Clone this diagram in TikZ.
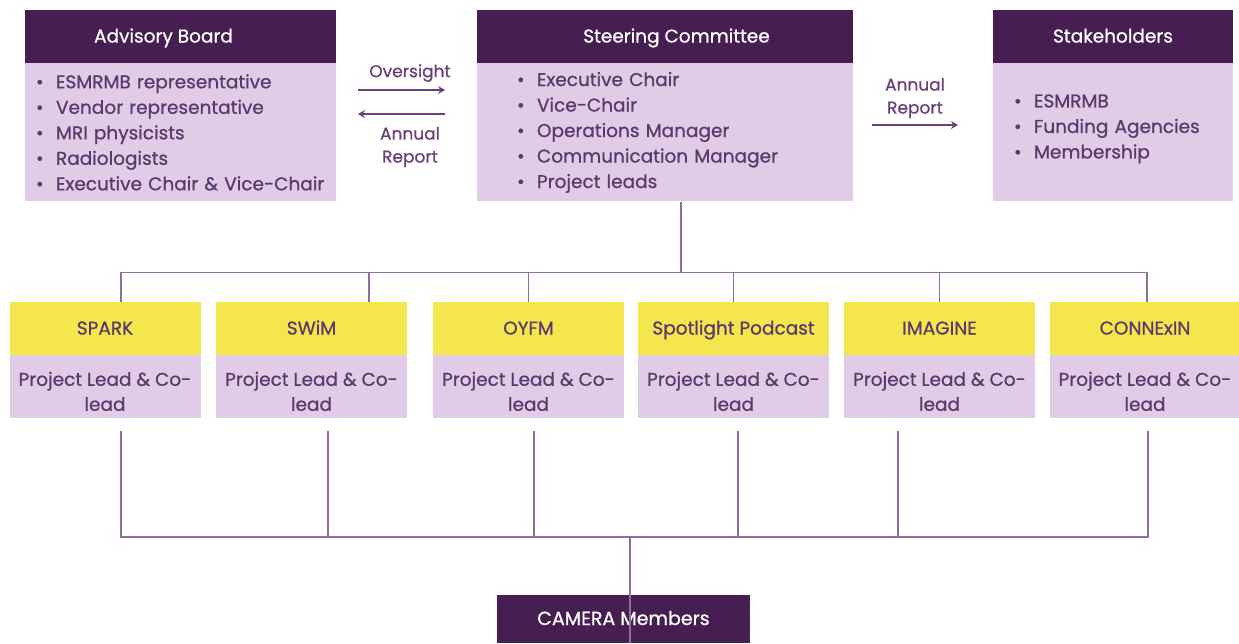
\documentclass[tikz,border=0pt]{standalone}
\usepackage{fontspec}
\setmainfont{Poppins}[FakeBold=0.8]
\usetikzlibrary{arrows.meta,positioning}
\definecolor{campurple}{HTML}{461E52}
\definecolor{camlilac}{HTML}{E1CCE7}
\definecolor{camyellow}{HTML}{F5E64E}
\definecolor{camtext}{HTML}{5B3A6B}
\definecolor{camline}{HTML}{8E6E9E}
\definecolor{camarrow}{HTML}{6A3F7A}
\tikzset{
    %Define standard arrow tip
    >={Stealth[length=7pt,width=8pt]},
    %Define style for dark header boxes
    head/.style={rectangle, fill=campurple, text=white, minimum height=53pt, inner sep=0pt, text height=14pt, text depth=2pt, font=\fontsize{18.5}{20}\selectfont},
    %Define style for the lists under the headers
    list/.style={rectangle, fill=camlilac, text=camtext, minimum height=138pt, inner ysep=0pt, align=left, font=\fontsize{18.5}{25.5}\selectfont},
    %Define style for project titles and leads
    proj/.style={rectangle, fill=camyellow, text=camtext, minimum width=191pt, minimum height=53pt, inner sep=0pt, text height=14pt, text depth=2pt, font=\fontsize{18.5}{20}\selectfont},
    lead/.style={rectangle, fill=camlilac, text=camtext, minimum width=191pt, minimum height=63pt, inner sep=0pt, align=center, font=\fontsize{18.5}{25}\selectfont},
    link/.style={draw=camline, line width=1.2pt},
    flow/.style={draw=camarrow, line width=2.4pt, ->},
    note/.style={text=camarrow, align=center, font=\fontsize{17}{23}\selectfont},
}
\newcommand{\itm}[1]{\makebox[20pt][l]{\textbullet}#1}
\newcommand{\leadtext}{\rule{0pt}{23pt}Project Lead \& Co-\\lead}

\begin{document}
\begin{tikzpicture}[x=1pt, y=-1pt]
    \useasboundingbox (0,0) rectangle (1239,643);

    % top row
    \node[head, minimum width=311pt](advhead) at (180.5,36.5){\hspace*{-34pt}Advisory Board};
    \node[list, below=0pt of advhead, inner xsep=11pt, text width=289pt](advbody){%
        \itm{ESMRMB representative}\\ \itm{Vendor representative}\\ \itm{MRI physicists}\\
        \itm{Radiologists}\\ \itm{Executive Chair \& Vice-Chair}};
    \node[head, minimum width=376pt](steerhead) at (665,36.5){\hspace*{23pt}Steering Committee};
    \node[list, below=0pt of steerhead, inner xsep=40pt, text width=296pt](steerbody){%
        \itm{Executive Chair}\\ \itm{Vice-Chair}\\ \itm{Operations Manager}\\
        \itm{Communication Manager}\\ \itm{Project leads}};
    \node[head, minimum width=240pt](stakehead) at (1113,36.5){Stakeholders};
    \node[list, below=0pt of stakehead, inner xsep=21pt, text width=198pt](stakebody){%
        \itm{ESMRMB}\\ \itm{Funding Agencies}\\ \itm{Membership}\rule[-12pt]{0pt}{12pt}};

    % reporting arrows
    \coordinate (ovfrom) at (358,90);
    \coordinate (ovto) at (445,90);
    \coordinate (arfrom) at (445,114);
    \coordinate (arto) at (358,114);
    \coordinate (repfrom) at (872,125);
    \coordinate (repto) at (958,125);
    \path[flow] (ovfrom) -- (ovto);
    \path[flow] (arfrom) -- (arto);
    \path[flow] (repfrom) -- (repto);
    \node[note](oversight) at (410,73){Oversight};
    \node[note](annual) at (410,147){Annual\\Report};
    \node[note](report) at (915,98){Annual\\Report};

    % projects
    \node[proj](spark) at (105,328.5){SPARK};
    \node[lead, below=0pt of spark](sparklead){\leadtext};
    \node[proj](swim) at (311.5,328.5){SWiM};
    \node[lead, below=0pt of swim](swimlead){\leadtext};
    \node[proj](oyfm) at (528.5,328.5){OYFM};
    \node[lead, below=0pt of oyfm](oyfmlead){\leadtext};
    \node[proj](spot) at (733.5,328.5){Spotlight Podcast};
    \node[lead, below=0pt of spot](spotlead){\leadtext};
    \node[proj](imagine) at (939.5,328.5){IMAGINE};
    \node[lead, below=0pt of imagine](imaginelead){\leadtext};
    \node[proj](connexin) at (1145,328.5){CONNExIN};
    \node[lead, below=0pt of connexin](connexinlead){\leadtext};

    \node[head, minimum width=253pt, minimum height=48pt, font=\fontsize{19}{20}\selectfont](camera) at (623.5,619){CAMERA Members};

    % tree lines
    \path[link] ([xshift=16pt]steerbody.south) -- ++(0,71) coordinate (topbus);
    \foreach \p/\dx in {spark/16, swim/57.5, oyfm/0, spot/0, imagine/0, connexin/2}
        \path[link] (topbus) -| ([xshift=\dx pt]\p.north);
    \coordinate (lowbus) at (630,537);
    \foreach \p/\dx in {sparklead/16, swimlead/16.5, oyfmlead/5.5, spotlead/4.5, imaginelead/-41.5, connexinlead/3}
        \path[link] ([shift={(\dx,12)}]\p.south) |- (lowbus);
    \path[link] (lowbus) -- ([xshift=6.5pt]camera.south);
\end{tikzpicture}
\end{document}
